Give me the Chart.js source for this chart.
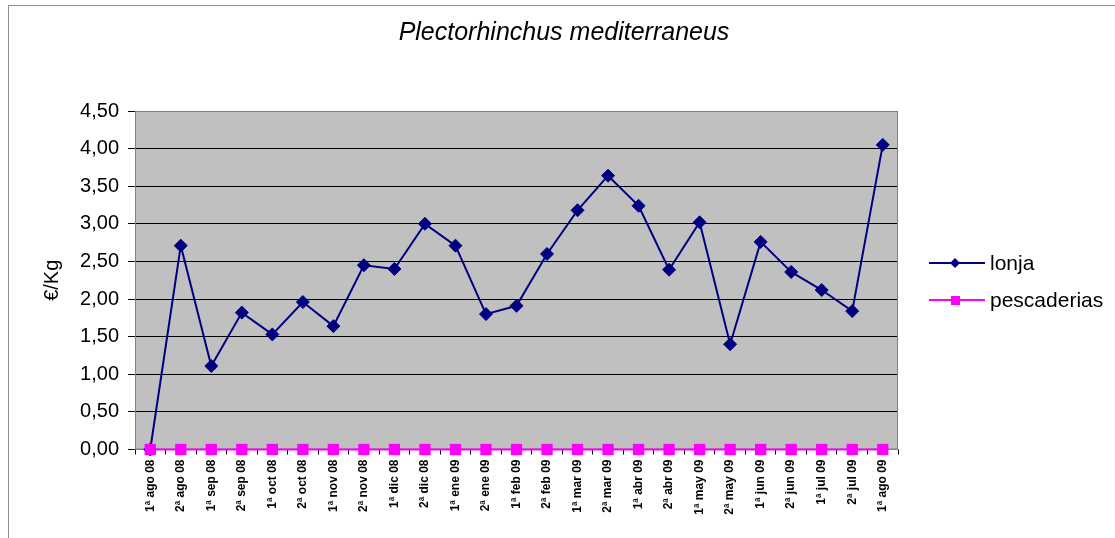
<!DOCTYPE html>
<html>
<head>
<meta charset="utf-8">
<script src="https://cdn.jsdelivr.net/npm/chart.js@4.4.1/dist/chart.umd.min.js"></script>
<style>
  html, body { margin: 0; padding: 0; background: #fff; }
  body { width: 1115px; height: 538px; position: relative; overflow: hidden; font-family: "Liberation Sans", Arial, sans-serif; }
  #wrap { position: absolute; left: 0; top: 0; width: 1115px; height: 538px; }
  #frame { position: absolute; left: 8px; top: 5px; width: 1120px; height: 545px; border: 1px solid #8c8c8c; pointer-events: none; }
  .leg { position: absolute; left: 929px; height: 24px; display: flex; align-items: center; color: #000; font-size: 21px; }
  .leg svg { margin-right: 4px; }
</style>
</head>
<body>
<div id="wrap"><canvas id="c" width="1115" height="538"></canvas></div>
<div id="frame"></div>
<div class="leg" style="top:251px">
  <svg width="57" height="14"><line x1="0" y1="7" x2="56" y2="7" stroke="#000080" stroke-width="2"/><polygon points="26,2 31,7 26,12 21,7" fill="#000080"/></svg>lonja
</div>
<div class="leg" style="top:288px">
  <svg width="57" height="14"><line x1="0" y1="7" x2="56" y2="7" stroke="#FF00FF" stroke-width="2"/><rect x="22" y="3" width="9" height="9" fill="#FF00FF"/></svg>pescaderias
</div>
<script>
// Fortnightly first-sale prices, Aug 2008 – Aug 2009
const categories = [
  "1ª ago 08", "2ª ago 08", "1ª sep 08", "2ª sep 08", "1ª oct 08", "2ª oct 08",
  "1ª nov 08", "2ª nov 08", "1ª dic 08", "2ª dic 08", "1ª ene 09", "2ª ene 09",
  "1ª feb 09", "2ª feb 09", "1ª mar 09", "2ª mar 09", "1ª abr 09", "2ª abr 09",
  "1ª may 09", "2ª may 09", "1ª jun 09", "2ª jun 09", "1ª jul 09", "2ª jul 09",
  "1ª ago 09"
];
const lonja = [
  0.00, 2.71, 1.11, 1.82, 1.53, 1.96, 1.64, 2.45, 2.40, 3.00, 2.71, 1.80,
  1.91, 2.60, 3.18, 3.64, 3.24, 2.39, 3.02, 1.40, 2.76, 2.36, 2.12, 1.84,
  4.05
];
const pescaderias = [
  0, 0, 0, 0, 0, 0, 0, 0, 0, 0, 0, 0,
  0, 0, 0, 0, 0, 0, 0, 0, 0, 0, 0, 0,
  0
];
const yMin = 0;
const yMax = 4.5;
const yStep = 0.5;

const FONT = "'Liberation Sans', Arial, sans-serif";

// Grey plot background with a thin border
const plotBackground = {
  id: 'plotBackground',
  beforeDraw(chart) {
    const { ctx, chartArea: a } = chart;
    ctx.save();
    ctx.fillStyle = '#C0C0C0';
    ctx.fillRect(a.left, a.top, a.right - a.left, a.bottom - a.top);
    ctx.restore();
  },
  beforeDatasetsDraw(chart) {
    const { ctx, chartArea: a } = chart;
    ctx.save();
    ctx.strokeStyle = '#808080';
    ctx.lineWidth = 1;
    ctx.strokeRect(a.left + 0.5, a.top + 0.5, a.right - a.left - 1, a.bottom - a.top - 1);
    ctx.restore();
  }
};

new Chart(document.getElementById('c'), {
  type: 'line',
  data: {
    labels: categories,
    datasets: [
      {
        label: 'lonja',
        data: lonja,
        order: 1,
        borderColor: '#000080',
        backgroundColor: '#000080',
        borderWidth: 2,
        pointStyle: 'rectRot',
        pointRadius: 6.5,
        pointBorderWidth: 1,
        pointBackgroundColor: '#000080',
        pointBorderColor: '#000080',
        tension: 0,
        clip: false
      },
      {
        label: 'pescaderias',
        data: pescaderias,
        order: 0,
        borderColor: '#FF00FF',
        backgroundColor: '#FF00FF',
        borderWidth: 2,
        pointStyle: 'rect',
        pointRadius: 8,
        pointBorderWidth: 0,
        pointBackgroundColor: '#FF00FF',
        pointBorderColor: '#FF00FF',
        tension: 0,
        clip: false
      }
    ]
  },
  options: {
    responsive: false,
    animation: false,
    devicePixelRatio: 1,
    layout: { padding: { left: 13, right: 0, top: 0, bottom: 0 } },
    plugins: {
      legend: { display: false },
      tooltip: { enabled: false },
      title: {
        display: true,
        text: 'Plectorhinchus mediterraneus',
        color: '#000',
        font: { family: FONT, size: 25, style: 'italic', weight: 'normal' },
        padding: { top: 18, bottom: 63 }
      }
    },
    scales: {
      x: {
        type: 'category',
        offset: true,
        grid: {
          offset: true,
          drawOnChartArea: false,
          drawTicks: true,
          tickLength: 5,
          color: '#000'
        },
        border: { display: true, color: '#808080' },
        ticks: {
          autoSkip: false,
          minRotation: 90,
          maxRotation: 90,
          padding: 5,
          color: '#000',
          font: { family: FONT, size: 12, weight: 'bold' }
        },
        afterFit(s) { s.height = 88.5; }
      },
      y: {
        min: yMin,
        max: yMax,
        grid: { color: '#000', lineWidth: 1, tickLength: 7, drawTicks: true },
        border: { display: true, color: '#808080' },
        ticks: {
          stepSize: yStep,
          padding: 9,
          color: '#000',
          font: { family: FONT, size: 20 },
          callback: (v) => Number(v).toFixed(2).replace('.', ',')
        },
        title: {
          display: true,
          text: '€/Kg',
          color: '#000',
          font: { family: FONT, size: 20 },
          padding: { top: 27, bottom: 0 }
        },
        afterFit(s) { s.width = 122; }
      },
      // empty right-hand band that leaves room for the legend
      yLegendSpace: {
        position: 'right',
        display: true,
        grid: { display: false },
        border: { display: false },
        ticks: { display: false },
        afterFit(s) { s.width = 217; }
      }
    }
  },
  plugins: [plotBackground]
});
</script>
</body>
</html>
